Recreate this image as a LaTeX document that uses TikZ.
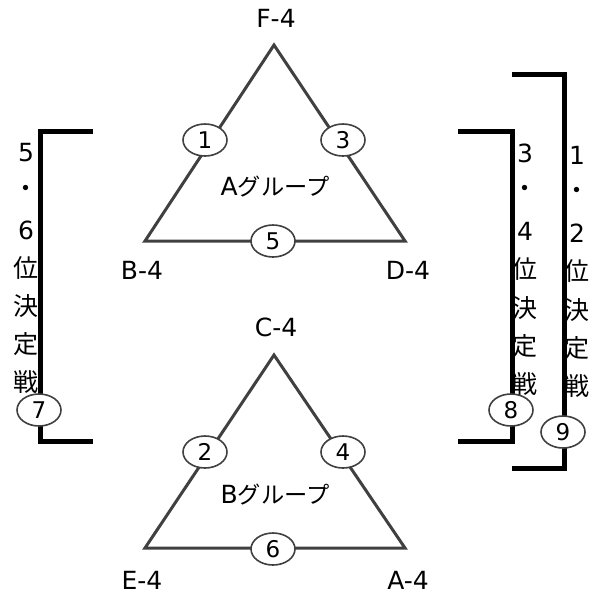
\documentclass[tikz,border=0pt]{standalone}
\usepackage{fontspec}
\setmainfont{DejaVu Sans}
\newfontfamily\cjk{Noto Sans CJK JP}[Scale=0.93]
\newfontfamily\cjkv{Noto Sans CJK JP}[Scale=1.0]
\usetikzlibrary{shapes.geometric}
\definecolor{tri}{HTML}{404040}
\tikzset{
  edge/.style={draw=tri, line width=3pt},
  brk/.style={draw=black, line width=5pt},
  game/.style={ellipse, draw=tri, line width=1.6pt, fill=white, minimum width=44pt, minimum height=32pt, inner sep=0pt, font=\fontsize{23}{26}\selectfont},
  lbl/.style={inner sep=0pt, font=\fontsize{25}{28}\selectfont},
  vch/.style={inner sep=0pt, font=\fontsize{25}{28}\selectfont},
}
\begin{document}
\begin{tikzpicture}[x=1pt,y=-1pt]
\useasboundingbox (0,0) rectangle (604,598);
% group A
\coordinate (aT) at (274,45);
\coordinate (aL) at (145,241);
\coordinate (aR) at (405,241);
\draw[edge, line join=miter] (aT) -- (aL) -- (aR) -- cycle;
\node[game] (g1) at (205,140) {1};
\node[game] (g3) at (343,140) {3};
\node[game] (g5) at (273,241) {5};
\node[lbl] (nF) at (276,18) {F-4};
\node[lbl] (nB) at (142,270) {B-4};
\node[lbl] (nD) at (408,270) {D-4};
\node[lbl] (grA) at (275,187) {A{\cjk グループ}};
% group B
\coordinate (bT) at (274,355);
\coordinate (bL) at (145,548);
\coordinate (bR) at (405,548);
\draw[edge, line join=miter] (bT) -- (bL) -- (bR) -- cycle;
\node[game] (g2) at (205,452) {2};
\node[game] (g4) at (343,452) {4};
\node[game] (g6) at (273,549) {6};
\node[lbl] (nC) at (276,327) {C-4};
\node[lbl] (nE) at (142,580) {E-4};
\node[lbl] (nA) at (408,580) {A-4};
\node[lbl] (grB) at (275,495) {B{\cjk グループ}};
% brackets
\coordinate (l1) at (93,131); \coordinate (l2) at (40,131);
\coordinate (l3) at (40,441); \coordinate (l4) at (93,441);
\draw[brk] (l1) -- (l2) -- (l3) -- (l4);
\coordinate (m1) at (458,131); \coordinate (m2) at (512,131);
\coordinate (m3) at (512,441); \coordinate (m4) at (458,441);
\draw[brk] (m1) -- (m2) -- (m3) -- (m4);
\coordinate (r1) at (512,74); \coordinate (r2) at (564,74);
\coordinate (r3) at (564,468); \coordinate (r4) at (512,468);
\draw[brk] (r1) -- (r2) -- (r3) -- (r4);
% vertical texts
\foreach \t/\y [count=\i] in {5/153,{\cjkv ・}/191,6/230,{\cjkv 位}/268,{\cjkv 決}/306,{\cjkv 定}/344,{\cjkv 戦}/382}
  \node[vch] (p\i) at (26,\y) {\t};
\foreach \t/\y [count=\i] in {3/153,{\cjkv ・}/191,4/231,{\cjkv 位}/269,{\cjkv 決}/308,{\cjkv 定}/346,{\cjkv 戦}/384}
  \node[vch] (q\i) at (525,\y) {\t};
\foreach \t/\y [count=\i] in {1/155,{\cjkv ・}/193,2/233,{\cjkv 位}/271,{\cjkv 決}/310,{\cjkv 定}/348,{\cjkv 戦}/386}
  \node[vch] (s\i) at (577,\y) {\t};
\node[game] (g7) at (39,410) {7};
\node[game] (g8) at (511,410) {8};
\node[game] (g9) at (563,432) {9};
\end{tikzpicture}
\end{document}
